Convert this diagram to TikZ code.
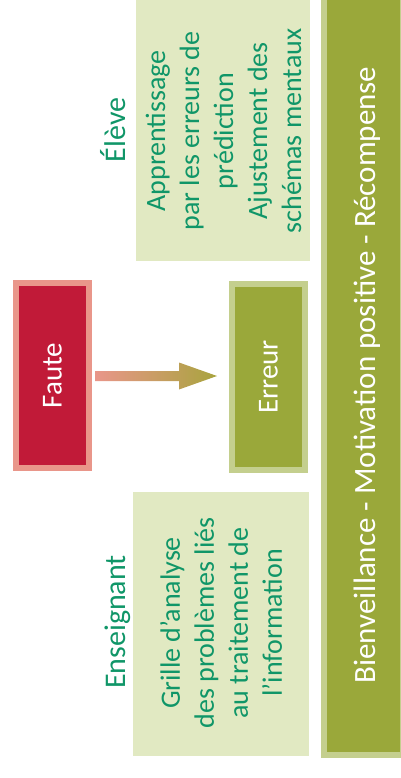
\documentclass[tikz,border=0pt]{standalone}
\usepackage{fontspec}
\setmainfont{Carlito}
\usetikzlibrary{calc}
\definecolor{crimson}{RGB}{193,26,56}
\definecolor{salmon}{RGB}{233,150,138}
\definecolor{olivefill}{RGB}{154,168,58}
\definecolor{oliveborder}{RGB}{196,207,142}
\definecolor{palegreen}{RGB}{225,233,194}
\definecolor{txtgreen}{RGB}{16,150,104}
\definecolor{arrowend}{RGB}{168,164,62}
\begin{document}
\begin{tikzpicture}[x=1pt,y=-1pt,
  box/.style={rectangle, inner sep=0pt, line width=6pt},
  rtext/.style={rotate=90, inner sep=0pt},
  bigtxt/.style={font=\fontsize{29}{34}\selectfont},
  headtxt/.style={rotate=90, inner sep=0pt, anchor=base, text=txtgreen, font=\fontsize{30}{36}\selectfont},
  bodytxt/.style={rotate=90, inner sep=0pt, align=center, text=txtgreen, font=\fontsize{28}{34}\selectfont}]
\useasboundingbox (0,0) rectangle (400,778);
% pale boxes
\node[box, fill=palegreen, minimum width=174pt, minimum height=263pt] (elevebox) at (223,129.5) {};
\node[box, fill=palegreen, minimum width=176pt, minimum height=264pt] (ensbox) at (221,624) {};
% bar
\node[box, fill=olivefill, draw=oliveborder, minimum width=79pt, minimum height=760pt] (bar) at (363.5,375) {};
% faute / erreur
\node[box, fill=crimson, draw=salmon, minimum width=73pt, minimum height=185pt] (faute) at (52.5,375.5) {};
\node[box, fill=olivefill, draw=oliveborder, minimum width=73pt, minimum height=186pt] (erreur) at (268.5,377) {};
% texts
\node[rtext, bigtxt, text=white] (fautetxt) at (faute.center) {Faute};
\node[rtext, bigtxt, text=white] (erreurtxt) at (erreur.center) {Erreur};
\node[rtext, text=white, font=\fontsize{31}{36}\selectfont] (bartxt) at (367,375) {Bienveillance - Motivation positive - Récompense};
\node[headtxt] (eleve) at (125,130) {Élève};
\node[headtxt] (ens) at (125,622) {Enseignant};
\node[bodytxt] (elevetxt) at (223.5,131) {Apprentissage\\par les erreurs de\\prédiction\\Ajustement des\\schémas mentaux};
\node[bodytxt] (enstxt) at (221,623) {Grille d’analyse\\des problèmes liés\\au traitement de\\l’information};
% arrow
\coordinate (a0) at ($(faute.east)+(3,0.5)$);
\coordinate (a1) at ($(erreur.west |- a0)+(-12,0)$);
\shade[left color=salmon, right color=arrowend]
  ($(a0)+(0,-5)$) -- ($(a1)+(-38,-5)$) -- ($(a1)+(-38,-13.5)$) -- (a1)
  -- ($(a1)+(-38,13.5)$) -- ($(a1)+(-38,5)$) -- ($(a0)+(0,5)$) -- cycle;
\end{tikzpicture}
\end{document}
